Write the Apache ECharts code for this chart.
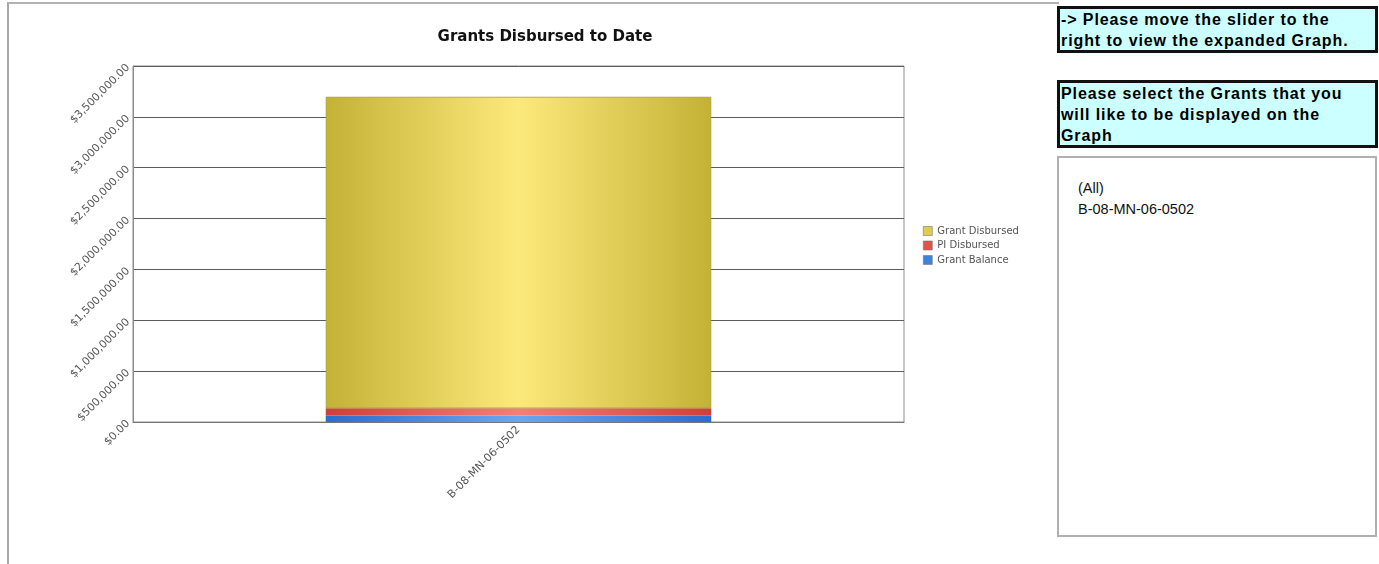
<!DOCTYPE html>
<html>
<head>
<meta charset="utf-8">
<title>Grants Disbursed to Date</title>
<script src="https://cdn.jsdelivr.net/npm/echarts@6/dist/echarts.min.js"></script>
<style>
  html, body { margin: 0; padding: 0; background: #fff; }
  #frame { position: absolute; left: 7px; top: 2px; width: 1050px; height: 580px;
           border-top: 2px solid #b4b4b4; border-left: 2px solid #a8a8a8; }
  #chart { position: absolute; left: 0; top: 0; width: 1056px; height: 564px; }
  .note { position: absolute; left: 1057px; width: 314px; background: #ccffff;
          border: 3px solid #111; font-family: "Liberation Sans", Arial, sans-serif;
          font-weight: bold; font-size: 16px; letter-spacing: 0.9px; color: #000;
          padding: 0 0 0 1px; white-space: nowrap; overflow: hidden; }
  #note1 { top: 6px; line-height: 20.5px; padding-top: 1px; height: 40px; }
  #note2 { top: 80px; height: 62px; line-height: 21px; }
  #picker { position: absolute; left: 1057px; top: 156px; width: 316px; height: 377px;
            border: 2px solid #b0b0b0; font-family: "Liberation Sans", Arial, sans-serif;
            font-size: 14.5px; color: #111; }
  #picker div { margin-left: 19px; line-height: 21px; }
</style>
</head>
<body>
<div id="frame"></div>
<div id="chart"></div>
<div class="note" id="note1">-&gt; Please move the slider to the<br>right to view the expanded Graph.</div>
<div class="note" id="note2">Please select the Grants that you<br>will like to be displayed on the<br>Graph</div>
<div id="picker">
  <div style="margin-top:20px">(All)</div>
  <div>B-08-MN-06-0502</div>
</div>
<script>
    // data
    var grants = ['B-08-MN-06-0502'];
    var grantBalance = [65000];
    var piDisbursed = [69000];
    var grantDisbursed = [3063000];
    var yTicks = [0, 500000, 1000000, 1500000, 2000000, 2500000, 3000000, 3500000];

    var legendNames = ['Grant Disbursed', 'PI Disbursed', 'Grant Balance'];
    var flat = { 'Grant Disbursed': '#e0cd48', 'PI Disbursed': '#e0524a', 'Grant Balance': '#3f82dc' };

    function shade(edge, mid) {
        return new echarts.graphic.LinearGradient(0, 0, 1, 0, [
            { offset: 0, color: edge },
            { offset: 0.5, color: mid },
            { offset: 1, color: edge }
        ]);
    }

    function money(v) {
        return '$' + v.toLocaleString('en-US', { minimumFractionDigits: 2, maximumFractionDigits: 2 });
    }

    var myChart = echarts.init(document.getElementById('chart'));
    var option = {
        animation: false,
        title: {
            text: 'Grants Disbursed to Date',
            left: 540,
            textAlign: 'center',
            top: 25,
            textStyle: { fontFamily: 'DejaVu Sans', fontSize: 15, fontWeight: 'bold', color: '#111' }
        },
        legend: {
            orient: 'vertical',
            left: 918,
            top: 221,
            itemWidth: 9,
            itemHeight: 9,
            itemGap: 4.5,
            icon: 'rect',
            textStyle: { fontFamily: 'DejaVu Sans', fontSize: 10, color: '#555', lineHeight: 10 },
            data: legendNames.map(function (n) {
                return { name: n, itemStyle: { color: flat[n], borderColor: '#777', borderWidth: 0.6 } };
            })
        },
        grid: {
            left: 133, right: 1056 - 904, top: 66, bottom: 564 - 422,
            show: true, borderColor: '#8c8c8c', borderWidth: 1
        },
        xAxis: {
            type: 'category',
            data: grants,
            axisLine: { lineStyle: { color: '#777' } },
            axisTick: { show: false },
            axisLabel: { rotate: 45, margin: 6, fontFamily: 'DejaVu Sans', fontSize: 11, color: '#555' }
        },
        yAxis: {
            type: 'value',
            min: yTicks[0],
            max: yTicks[yTicks.length - 1],
            interval: 500000,
            axisLine: { show: true, lineStyle: { color: '#8c8c8c' } },
            axisTick: { show: false },
            splitLine: { lineStyle: { color: '#5c5c5c', width: 1 } },
            axisLabel: {
                rotate: 45, margin: 5, fontFamily: 'DejaVu Sans', fontSize: 10.8, color: '#555',
                formatter: money
            }
        },
        series: [
            {
                name: 'Grant Balance', type: 'bar', stack: 'g', barWidth: '50%',
                data: grantBalance,
                itemStyle: { color: shade('#2c6ccd', '#66a8f4') }
            },
            {
                name: 'PI Disbursed', type: 'bar', stack: 'g',
                data: piDisbursed,
                itemStyle: { color: shade('#cf3f39', '#f47f75') }
            },
            {
                name: 'Grant Disbursed', type: 'bar', stack: 'g',
                data: grantDisbursed,
                itemStyle: { color: shade('#c4b236', '#fce97b'), borderColor: '#a89a3a', borderWidth: 0.8 }
            }
        ]
    };
    myChart.setOption(option);
</script>
</body>
</html>
